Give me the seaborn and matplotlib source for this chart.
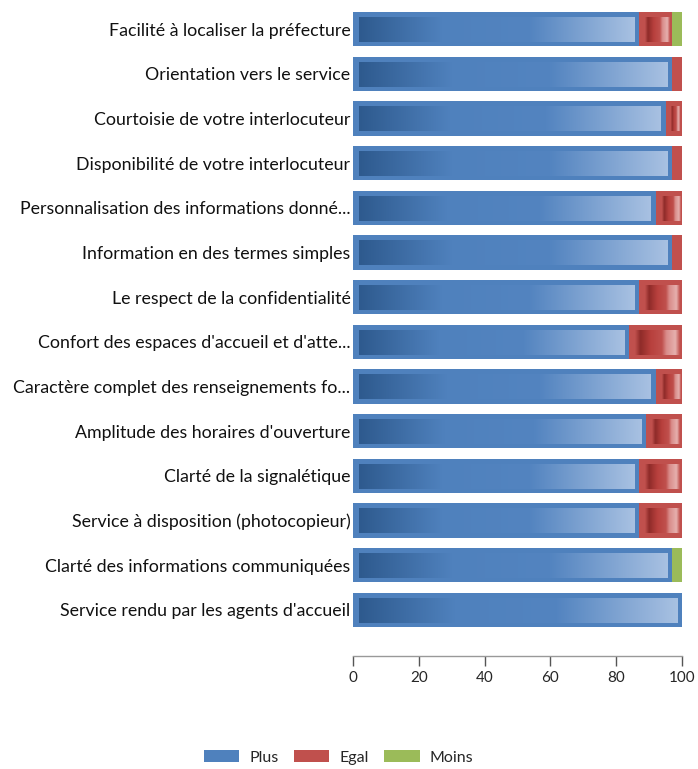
import numpy as np
import pandas as pd
import matplotlib
matplotlib.use("Agg")
import matplotlib.pyplot as plt
from matplotlib.colors import LinearSegmentedColormap
from matplotlib.patches import Patch
import seaborn as sns

categories = [
    "Facilité à localiser la préfecture",
    "Orientation vers le service",
    "Courtoisie de votre interlocuteur",
    "Disponibilité de votre interlocuteur",
    "Personnalisation des informations donné...",
    "Information en des termes simples",
    "Le respect de la confidentialité",
    "Confort des espaces d'accueil et d'atte...",
    "Caractère complet des renseignements fo...",
    "Amplitude des horaires d'ouverture",
    "Clarté de la signalétique",
    "Service à disposition (photocopieur)",
    "Clarté des informations communiquées",
    "Service rendu par les agents d'accueil",
]
plus = [87, 97, 95, 97, 92, 97, 87, 84, 92, 89, 87, 87, 97, 100]
egal = [10, 3, 5, 3, 8, 3, 13, 16, 8, 11, 13, 13, 0, 0]
moins = [3, 0, 0, 0, 0, 0, 0, 0, 0, 0, 0, 0, 3, 0]
series_names = ["Plus", "Egal", "Moins"]
x_ticks = [0, 20, 40, 60, 80, 100]

BLUE, RED, GREEN = "#4F81BD", "#C0504D", "#9BBB59"

df = pd.DataFrame({"cat": categories, "Plus": plus, "Egal": egal, "Moins": moins})
df["c_plus"] = df["Plus"]
df["c_egal"] = df["Plus"] + df["Egal"]
df["c_moins"] = df["Plus"] + df["Egal"] + df["Moins"]

sns.set_theme(style="white")
plt.rcParams["font.family"] = ["Lato", "DejaVu Sans"]

fig = plt.figure(figsize=(6.98, 7.69), dpi=100)
ax = fig.add_axes([0.506, 0.178, 0.471, 0.813])

BAR_H = 0.77
# stacked bars: draw cumulative totals back to front
for col, colour in (("c_moins", GREEN), ("c_egal", RED), ("c_plus", BLUE)):
    sns.barplot(data=df, x=col, y="cat", orient="h", color=colour,
                width=BAR_H, saturation=1, linewidth=0, ax=ax)

# glossy inner gradient on each segment
blue_cmap = LinearSegmentedColormap.from_list(
    "bl", [(0, "#2E5A8E"), (0.3, "#4F81BD"), (0.62, "#5384C0"), (1, "#A8C1E2")])
red_cmap = LinearSegmentedColormap.from_list(
    "rd", [(0, "#C0504D"), (0.12, "#8E2B29"), (0.35, "#B8403D"), (0.6, "#C0504D"),
           (0.7, "#D98C8A"), (0.9, "#E6B0AE"), (1, "#C0504D")])
grad = np.linspace(0, 1, 256).reshape(1, -1)
in_left, in_right = 1.8, 1.4
in_top, in_bot = 0.13, 0.10
for i, row in df.iterrows():
    y0, y1 = i - BAR_H / 2 + in_top, i + BAR_H / 2 - in_bot
    if row["Plus"] > 4:
        ax.imshow(grad, cmap=blue_cmap, aspect="auto", interpolation="bilinear",
                  extent=(in_left, row["c_plus"] - in_right, y1, y0), zorder=3)
    if row["Egal"] > 4:
        ax.imshow(grad, cmap=red_cmap, aspect="auto", interpolation="bilinear",
                  extent=(row["c_plus"] + in_left, row["c_egal"] - in_right * 0.5, y1, y0),
                  zorder=3)

ax.set_xlim(0, 100)
ax.set_ylim(len(categories) - 0.5, -0.5)
ax.set_xlabel("")
ax.set_ylabel("")
ax.set_xticks(x_ticks)
ax.set_xticklabels([str(t) for t in x_ticks], fontsize=12, color="#222222")
ax.tick_params(axis="x", bottom=True, length=7, width=1, color="#555555", pad=4)
ax.tick_params(axis="y", left=False, length=0, labelsize=12.8,
               labelcolor="#111111", pad=2)

sns.despine(ax=ax, left=True, offset={"bottom": 17})
ax.spines["bottom"].set_color("#999999")
ax.spines["bottom"].set_linewidth(1)

handles = [Patch(facecolor=c, edgecolor="none") for c in (BLUE, RED, GREEN)]
fig.legend(handles, series_names, loc="lower center", ncol=3, frameon=False,
           bbox_to_anchor=(0.485, -0.013), fontsize=11.5, handlelength=2.2,
           handleheight=0.7, columnspacing=1.0, handletextpad=0.6)

fig.savefig("out.png", dpi=100)
